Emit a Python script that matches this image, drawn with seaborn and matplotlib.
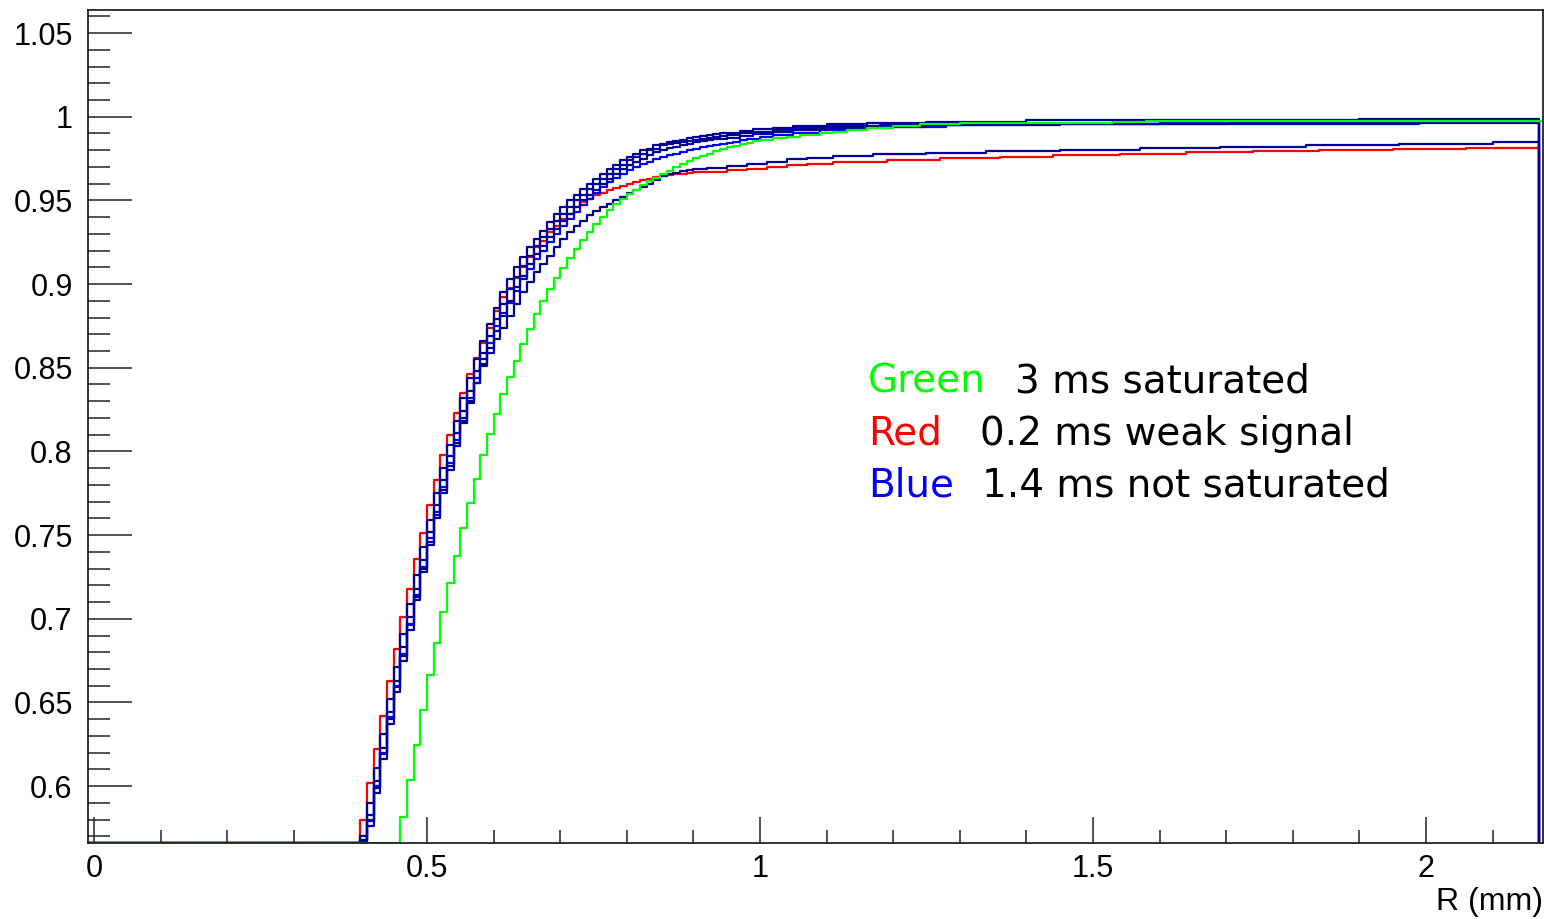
import numpy as np
import matplotlib
matplotlib.use("Agg")
import matplotlib.pyplot as plt
from matplotlib.ticker import MultipleLocator, FuncFormatter
import seaborn as sns

# ---------------- data ----------------
BIN = 0.01          # histogram bin width (mm)
H_LO = -0.01        # histogram lower edge
H_HI = 2.17         # histogram upper edge
G_HI = 2.18         # green histogram upper edge

# Red: 0.2 ms weak signal  (dense bins from 0.40, then sparse step changes)
red_start = 0.40
red_dense = [0.580, 0.602, 0.622, 0.642, 0.663, 0.682, 0.701, 0.718, 0.736, 0.751,
             0.768, 0.783, 0.798, 0.810, 0.823, 0.835, 0.846, 0.856, 0.865, 0.874,
             0.884, 0.892, 0.8975, 0.9035, 0.910, 0.916, 0.922, 0.926, 0.931, 0.935,
             0.939, 0.942, 0.946, 0.949, 0.951, 0.953, 0.9545, 0.956, 0.9574, 0.9588,
             0.960, 0.961, 0.962, 0.963, 0.9638, 0.9645, 0.965, 0.9655, 0.966, 0.9665,
             0.9668]
red_tail_r = [0.92, 0.95, 0.98, 1.01, 1.04, 1.07, 1.11, 1.19, 1.27, 1.36, 1.44, 1.54,
              1.64, 1.74, 1.84, 1.95, 2.06]
red_tail_v = [0.9672, 0.968, 0.969, 0.970, 0.971, 0.9717, 0.9731, 0.9741, 0.9751,
              0.9761, 0.9771, 0.978, 0.9787, 0.9793, 0.9799, 0.9805, 0.9812]

# Green: 3 ms saturated
green_start = 0.46
green_dense = [0.5815, 0.6035, 0.6248, 0.6457, 0.6663, 0.6856, 0.7039, 0.7211, 0.7378,
               0.7544, 0.769, 0.7837, 0.7977, 0.8102, 0.8222, 0.8345, 0.8445, 0.8541,
               0.8644, 0.873, 0.882, 0.890, 0.897, 0.9039, 0.9099, 0.9158, 0.9212,
               0.9262, 0.9314, 0.9362, 0.9402, 0.9442, 0.9478, 0.951, 0.9538, 0.9565,
               0.959, 0.9615, 0.9637, 0.9657, 0.9677, 0.9697, 0.9716, 0.9735, 0.9753,
               0.9768, 0.978, 0.9795, 0.9806, 0.9817, 0.9826, 0.9835, 0.9845, 0.9853,
               0.9861]
green_tail_r = [1.02, 1.04, 1.06, 1.09, 1.11, 1.13, 1.16, 1.20, 1.24, 1.30, 1.39, 1.53, 1.58]
green_tail_v = [0.9872, 0.9882, 0.9889, 0.990, 0.991, 0.992, 0.9932, 0.9946, 0.9956,
                0.996, 0.9964, 0.997, 0.9972]

# Blue: 1.4 ms not saturated (several runs)
blue_start = 0.40
blue_a_dense = [0.570, 0.590, 0.611, 0.631, 0.652, 0.671, 0.691, 0.709, 0.726, 0.743,
                0.759, 0.775, 0.790, 0.804, 0.818, 0.832, 0.844, 0.855, 0.866, 0.876,
                0.886, 0.895, 0.903, 0.910, 0.916, 0.922, 0.927, 0.932, 0.937, 0.942,
                0.946, 0.950, 0.953, 0.957, 0.960, 0.963, 0.966, 0.969, 0.971, 0.974,
                0.976, 0.978, 0.980, 0.981, 0.983, 0.984, 0.9848, 0.9856, 0.9864, 0.9872,
                0.9879, 0.9885, 0.989, 0.9895, 0.990, 0.9905]
blue_a_tail_r = [0.97, 0.99, 1.02, 1.05, 1.10, 1.16, 1.25, 1.40, 1.60, 1.90]
blue_a_tail_v = [0.9915, 0.9925, 0.9935, 0.9945, 0.9955, 0.9962, 0.997, 0.9978, 0.9983, 0.9986]

blue_b_dense = [0.568, 0.583, 0.603, 0.623, 0.644, 0.663, 0.683, 0.701, 0.718, 0.735,
                0.752, 0.768, 0.783, 0.797, 0.811, 0.824, 0.836, 0.848, 0.859, 0.869,
                0.879, 0.888, 0.897, 0.904, 0.911, 0.917, 0.923, 0.928, 0.933, 0.938,
                0.942, 0.946, 0.950, 0.953, 0.957, 0.960, 0.963, 0.966, 0.969, 0.971,
                0.974, 0.976, 0.978, 0.980, 0.981, 0.983, 0.9835, 0.9843, 0.985, 0.9857,
                0.9864, 0.987, 0.9876, 0.988, 0.9885, 0.989]
blue_b_tail_r = [0.97, 0.99, 1.02, 1.05, 1.10, 1.18, 1.30, 1.99]
blue_b_tail_v = [0.990, 0.991, 0.992, 0.9935, 0.9945, 0.9952, 0.9958, 0.9972]

blue_c_dense = [0.567, 0.576, 0.596, 0.616, 0.637, 0.656, 0.675, 0.693, 0.711, 0.728,
                0.744, 0.760, 0.775, 0.789, 0.803, 0.817, 0.829, 0.841, 0.852, 0.862,
                0.872, 0.881, 0.890, 0.898, 0.905, 0.912, 0.918, 0.923, 0.928, 0.933,
                0.938, 0.942, 0.946, 0.950, 0.953, 0.956, 0.960, 0.963, 0.966, 0.969,
                0.971, 0.973, 0.975, 0.977, 0.979, 0.980, 0.9812, 0.9822, 0.9832, 0.984,
                0.9847, 0.9854, 0.986, 0.9865, 0.987, 0.9876]
blue_c_tail_r = [0.97, 0.99, 1.02, 1.05, 1.10, 1.16, 1.25, 1.45, 1.70]
blue_c_tail_v = [0.9885, 0.9895, 0.9908, 0.992, 0.9932, 0.994, 0.995, 0.9958, 0.9962]

blue_d_dense = [0.568, 0.580, 0.600, 0.620, 0.641, 0.660, 0.679, 0.697, 0.714, 0.731,
                0.748, 0.764, 0.779, 0.793, 0.807, 0.820, 0.832, 0.844, 0.855, 0.865,
                0.875, 0.883, 0.889, 0.896, 0.903, 0.909, 0.915, 0.920, 0.925, 0.930,
                0.935, 0.939, 0.943, 0.947, 0.951, 0.9545, 0.958, 0.961, 0.9635, 0.966,
                0.968, 0.970, 0.9717, 0.973, 0.9745, 0.9757, 0.977, 0.978, 0.979, 0.980,
                0.981, 0.982, 0.9825, 0.983, 0.984, 0.9846, 0.985, 0.986, 0.9865, 0.987,
                0.9878]
blue_d_tail_r = [1.02, 1.05, 1.09, 1.14, 1.20, 1.28, 1.40, 1.60, 1.85]
blue_d_tail_v = [0.989, 0.9905, 0.9918, 0.993, 0.994, 0.995, 0.9958, 0.9964, 0.9968]

blue_e_dense = [0.567, 0.579, 0.599, 0.619, 0.640, 0.659, 0.678, 0.696, 0.713, 0.730,
                0.746, 0.762, 0.777, 0.791, 0.805, 0.818, 0.830, 0.841, 0.851, 0.859,
                0.867, 0.874, 0.881, 0.888, 0.895, 0.901, 0.907, 0.912, 0.917, 0.922,
                0.927, 0.931, 0.935, 0.938, 0.941, 0.9435, 0.946, 0.948, 0.950, 0.952,
                0.9545, 0.956, 0.958, 0.960, 0.9625, 0.9645, 0.9655, 0.9665, 0.9675,
                0.968, 0.9688]
blue_e_tail_r = [0.92, 0.95, 0.98, 1.01, 1.04, 1.07, 1.11, 1.17, 1.25, 1.34, 1.45, 1.57,
                 1.69, 1.82, 1.96, 2.10]
blue_e_tail_v = [0.9695, 0.9707, 0.972, 0.973, 0.9745, 0.9751, 0.9767, 0.9777, 0.9783,
                 0.9793, 0.9803, 0.9811, 0.9822, 0.9833, 0.9839, 0.9847]

X_LABEL = "R (mm)"
legend_words = ["Green", "Red", "Blue"]
legend_texts = ["3 ms saturated", "0.2 ms weak signal", "1.4 ms not saturated"]

# ---------------- style ----------------
GREEN = "#00ff00"
RED = "#ff0000"
BLUE = "#0000ff"
NAVY = "#000099"

sns.set_style("white")
plt.rcParams["font.family"] = ["Liberation Sans", "DejaVu Sans"]

X_MIN, X_MAX = -0.009, 2.1757
Y_MIN, Y_MAX = 0.566, 1.0638


def hist_steps(start, dense, tail_r, tail_v, hi):
    """Build a ROOT-like histogram outline (steps-post) from bin contents."""
    r = [H_LO] + list(start + BIN * np.arange(len(dense))) + list(tail_r) + [hi]
    v = [0.0] + list(dense) + list(tail_v) + [0.0]
    v = np.maximum(np.array(v), Y_MIN)   # ROOT draws empty bins on the frame
    return np.array(r), v


fig = plt.figure(figsize=(15.44, 9.19), dpi=100)
ax = fig.add_axes([88 / 1544, 76 / 919, 1455 / 1544, 833 / 919])

curves = [
    (red_start, red_dense, red_tail_r, red_tail_v, H_HI, RED),
    (blue_start, blue_e_dense, blue_e_tail_r, blue_e_tail_v, H_HI, NAVY),
    (blue_start, blue_d_dense, blue_d_tail_r, blue_d_tail_v, H_HI, BLUE),
    (blue_start, blue_c_dense, blue_c_tail_r, blue_c_tail_v, H_HI, NAVY),
    (blue_start, blue_b_dense, blue_b_tail_r, blue_b_tail_v, H_HI, NAVY),
    (blue_start, blue_a_dense, blue_a_tail_r, blue_a_tail_v, H_HI, NAVY),
    (green_start, green_dense, green_tail_r, green_tail_v, G_HI, GREEN),
]
for start, dense, tr, tv, hi, col in curves:
    r, v = hist_steps(start, dense, tr, tv, hi)
    sns.lineplot(x=r, y=v, ax=ax, color=col, linewidth=1.6, drawstyle="steps-post",
                 estimator=None, sort=False, legend=False)

ax.set_xlim(X_MIN, X_MAX)
ax.set_ylim(Y_MIN, Y_MAX)

ax.xaxis.set_major_locator(MultipleLocator(0.5))
ax.xaxis.set_minor_locator(MultipleLocator(0.1))
ax.yaxis.set_major_locator(MultipleLocator(0.05))
ax.yaxis.set_minor_locator(MultipleLocator(0.01))
fmt = FuncFormatter(lambda v, p: f"{v:g}")
ax.xaxis.set_major_formatter(fmt)
ax.yaxis.set_major_formatter(fmt)

ax.tick_params(axis="both", which="both", bottom=True, left=True, top=False, right=False,
               direction="in", width=1.1, color="#222222", labelcolor="black")
ax.tick_params(axis="y", which="major", length=32, labelsize=22, pad=11)
ax.tick_params(axis="y", which="minor", length=16)
ax.tick_params(axis="x", which="major", length=19, labelsize=22, pad=8)
ax.tick_params(axis="x", which="minor", length=9.5)

for s in ax.spines.values():
    s.set_visible(True)
    s.set_color("#111111")
    s.set_linewidth(1.2)

ax.set_xlabel(X_LABEL, fontsize=23, loc="right", labelpad=2, color="black")
ax.set_ylabel("")

# annotation (legend-like text)
txt_font = ["DejaVu Sans"]
rows_y = [0.5414, 0.4778, 0.4154]
rest_x = [0.6371, 0.6130, 0.6144]
word_cols = [GREEN, RED, BLUE]
for word, rest, yy, rx, col in zip(legend_words, legend_texts, rows_y, rest_x, word_cols):
    ax.text(0.5361, yy, word, transform=ax.transAxes, color=col, fontsize=28,
            va="baseline", ha="left", family=txt_font)
    ax.text(rx, yy, rest, transform=ax.transAxes, color="black", fontsize=28,
            va="baseline", ha="left", family=txt_font)

fig.savefig("out.png", dpi=100)
